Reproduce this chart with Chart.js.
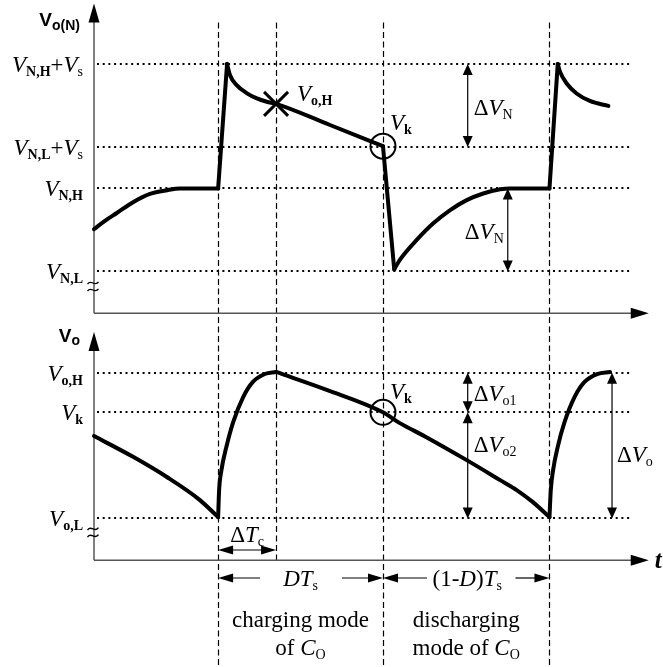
<!DOCTYPE html>
<html>
<head>
<meta charset="utf-8">
<script src="https://cdn.jsdelivr.net/npm/chart.js@4.4.1/dist/chart.umd.min.js"></script>
<style>
  html, body { margin: 0; padding: 0; background: #fff; }
  canvas { display: block; }
</style>
</head>
<body>
<canvas id="c" width="663" height="667"></canvas>
<script>
// Time is measured in switching periods Ts, starting at the vertical axis.
const tSwitchOn = [0.375, 1.376];   // switch turns on
const tChargeEnd = 0.55;            // end of the charging interval ΔTc
const tSwitchOff = 0.873;           // switch turns off (V_k point)

// Levels of the upper trace V_o(N)
const topLevelLabels = ['V_N,L', 'V_N,H', 'V_N,L+V_s', 'V_N,H+V_s'];
const topLevelValues = [1, 3, 4, 6];

// Levels of the lower trace V_o
const botLevelLabels = ['V_o,L', 'V_k', 'V_o,H'];
const botLevelValues = [1, 3.55, 4.5];

// Upper trace, piece by piece: [t, v]
const topRecovery1 = [[0, 2.02], [0.033, 2.22], [0.069, 2.41], [0.118, 2.67], [0.169, 2.87], [0.221, 2.96], [0.26, 3.0], [0.375, 3.0]];
const topStep1 = [[0.375, 3.0], [0.402, 6.0]];
const topDecay1 = [[0.402, 6.0], [0.411, 5.73], [0.431, 5.49], [0.461, 5.30], [0.492, 5.17], [0.522, 5.09], [0.55, 5.04], [0.713, 4.53], [0.873, 4.02]];
const topDrop = [[0.873, 4.02], [0.907, 1.05]];
const topRecovery2 = [[0.907, 1.05], [0.924, 1.28], [0.975, 1.76], [1.025, 2.16], [1.076, 2.48], [1.126, 2.72], [1.176, 2.88], [1.227, 2.98], [1.257, 3.0], [1.376, 3.0]];
const topStep2 = [[1.376, 3.0], [1.401, 6.0]];
const topDecay2 = [[1.401, 6.0], [1.408, 5.81], [1.428, 5.53], [1.458, 5.29], [1.498, 5.11], [1.554, 4.99]];

// Lower trace, piece by piece: [t, v]
const botDischarge1 = [[0, 2.98], [0.118, 2.48], [0.219, 2.0], [0.32, 1.44], [0.375, 1.03]];
const botCharge1 = [[0.375, 1.03], [0.378, 1.68], [0.385, 2.16], [0.4, 2.72], [0.42, 3.30], [0.451, 3.92], [0.48, 4.28], [0.516, 4.47], [0.55, 4.52]];
const botDischarge2 = [[0.55, 4.52], [0.703, 4.09], [0.873, 3.55], [0.924, 3.29], [1.0, 2.97], [1.126, 2.40], [1.227, 1.92], [1.277, 1.68], [1.326, 1.39], [1.376, 1.03]];
const botCharge2 = [[1.376, 1.03], [1.38, 1.68], [1.387, 2.16], [1.401, 2.72], [1.421, 3.30], [1.452, 3.92], [1.482, 4.28], [1.52, 4.47], [1.559, 4.52]];

const topWave = [topRecovery1, topStep1, topDecay1, topDrop, topRecovery2, topStep2, topDecay2];
const botWave = [botDischarge1, botCharge1, botDischarge2, botCharge2];

const SERIF = '"Liberation Serif", "Times New Roman", serif';
const SANS = '"Liberation Sans", Arial, sans-serif';
const F = {
  it: 'italic 23px ' + SERIF,
  rm: '23px ' + SERIF,
  sub: '14px ' + SERIF,
  subB: 'bold 14px ' + SERIF,
  axis: 'bold 19px ' + SANS,
  axisSub: 'bold 14px ' + SANS,
  t: 'bold italic 25px ' + SERIF
};

// draws a run of text pieces [text, font, dy] starting/ending/centred at x
function rich(ctx, parts, x, y, align) {
  let w = 0;
  parts.forEach(p => { ctx.font = p[1]; w += ctx.measureText(p[0]).width; });
  let cx = align === 'right' ? x - w : align === 'center' ? x - w / 2 : x;
  parts.forEach(p => {
    ctx.font = p[1];
    ctx.fillText(p[0], cx, y + (p[2] || 0));
    cx += ctx.measureText(p[0]).width;
  });
}

// 'V_N,H+V_s' -> italic V with subscripts, joined by '+'
function levelParts(label) {
  const parts = [];
  label.split('+').forEach((term, i) => {
    if (i) parts.push(['+', F.rm, 0]);
    const [main, sub] = term.split('_');
    parts.push([main, F.it, 0]);
    if (sub) parts.push([sub, sub === 's' ? F.sub : F.subB, 4]);
  });
  return parts;
}

function seg(ctx, x1, y1, x2, y2) {
  ctx.beginPath(); ctx.moveTo(x1, y1); ctx.lineTo(x2, y2); ctx.stroke();
}

// filled arrow head, tip at (x, y) pointing along (dx, dy)
function head(ctx, x, y, dx, dy, len, half) {
  const bx = x - dx * len, by = y - dy * len;
  ctx.beginPath();
  ctx.moveTo(x, y);
  ctx.lineTo(bx - dy * half, by + dx * half);
  ctx.lineTo(bx + dy * half, by - dx * half);
  ctx.closePath();
  ctx.fill();
}

// vertical dimension arrow between two pixel rows
function dimV(ctx, x, yA, yB) {
  ctx.lineWidth = 1.2;
  seg(ctx, x, yA + 4, x, yB - 4);
  head(ctx, x, yA, 0, -1, 11, 5);
  head(ctx, x, yB, 0, 1, 11, 5);
}

function tilde(ctx, cx, cy) {
  [-3.5, 3.5].forEach(off => {
    const y = cy + off;
    ctx.beginPath();
    ctx.moveTo(cx - 5.5, y + 1.2);
    ctx.bezierCurveTo(cx - 2, y - 4.5, cx + 2, y + 4.5, cx + 5.5, y - 1.2);
    ctx.stroke();
  });
}

const sketch = {
  id: 'sketch',
  beforeDatasetsDraw(chart) {
    const ctx = chart.ctx;
    const { x, yTop, yBot } = chart.scales;
    const X = t => x.getPixelForValue(t);
    const x0 = X(0);
    ctx.save();

    // dotted level lines
    ctx.strokeStyle = '#000';
    ctx.lineWidth = 2;
    ctx.setLineDash([2, 3.7]);
    const xDotEnd = X(1.625);
    topLevelValues.forEach(v => { const py = Math.round(yTop.getPixelForValue(v)); seg(ctx, x0 + 3, py, xDotEnd, py); });
    botLevelValues.forEach(v => { const py = Math.round(yBot.getPixelForValue(v)); seg(ctx, x0 + 3, py, xDotEnd, py); });

    // dashed time markers
    ctx.lineWidth = 1.2;
    ctx.setLineDash([6, 3.5]);
    const yDashTop = yTop.getPixelForValue(7.0);
    [tSwitchOn[0], tSwitchOff, tSwitchOn[1]].forEach(t => {
      const px = Math.round(X(t)) + 0.5;
      seg(ctx, px, yDashTop, px, chart.height);
    });
    const pc = Math.round(X(tChargeEnd)) + 0.5;
    seg(ctx, pc, yDashTop, pc, yBot.getPixelForValue(0));

    // axes
    ctx.setLineDash([]);
    ctx.strokeStyle = '#555';
    ctx.fillStyle = '#000';
    ctx.lineWidth = 1.5;
    const xTip = X(1.676);
    [[yTop, 7.46], [yBot, 5.48]].forEach(([ys, top]) => {
      const yb = Math.round(ys.getPixelForValue(0)) + 0.25;
      const yt = ys.getPixelForValue(top);
      seg(ctx, x0, yb, x0, yt + 10);
      seg(ctx, x0, yb, xTip - 10, yb);
      head(ctx, x0, yt, 0, -1, 19, 5.5);
      head(ctx, xTip, yb, 1, 0, 18, 5.5);
    });
    ctx.restore();
  },
  afterDatasetsDraw(chart) {
    const ctx = chart.ctx;
    const { x, yTop, yBot } = chart.scales;
    const X = t => x.getPixelForValue(t);
    const x0 = X(0);
    ctx.save();
    ctx.fillStyle = '#000';
    ctx.strokeStyle = '#000';
    ctx.textBaseline = 'alphabetic';

    // axis names
    rich(ctx, [['V', F.axis, 0], ['o(N)', F.axisSub, 4]], x0 - 14, yTop.getPixelForValue(7.46) + 23, 'right');
    rich(ctx, [['V', F.axis, 0], ['o', F.axisSub, 3]], x0 - 14, yBot.getPixelForValue(5.48) + 10, 'right');
    ctx.font = F.t;
    ctx.fillText('t', X(1.676) + 6, yBot.getPixelForValue(0) + 8);

    // level names
    topLevelLabels.forEach((lab, i) => rich(ctx, levelParts(lab), x0 - 11, yTop.getPixelForValue(topLevelValues[i]) + 8, 'right'));
    botLevelLabels.forEach((lab, i) => rich(ctx, levelParts(lab), x0 - 11, yBot.getPixelForValue(botLevelValues[i]) + 8, 'right'));

    // axis breaks
    ctx.lineWidth = 1.3;
    tilde(ctx, x0 - 1, yTop.getPixelForValue(topLevelValues[0]) + 15);
    tilde(ctx, x0 - 1, yBot.getPixelForValue(botLevelValues[0]) + 14);

    // V_o,H cross on the upper trace
    const cxH = X(tChargeEnd), cyH = yTop.getPixelForValue(topDecay1[6][1]);
    ctx.lineWidth = 3;
    seg(ctx, cxH - 12, cyH - 12, cxH + 12, cyH + 12);
    seg(ctx, cxH - 12, cyH + 12, cxH + 12, cyH - 12);
    rich(ctx, [['V', F.it, 0], ['o,H', F.subB, 4]], cxH + 21, cyH - 3, 'left');

    // V_k circles
    ctx.lineWidth = 2;
    const xk = X(tSwitchOff);
    const ykTop = yTop.getPixelForValue(topDecay1[8][1]);
    const ykBot = yBot.getPixelForValue(botLevelValues[1]);
    [ykTop, ykBot].forEach(yc => { ctx.beginPath(); ctx.arc(xk, yc, 12.5, 0, Math.PI * 2); ctx.stroke(); });
    rich(ctx, [['V', F.it, 0], ['k', F.subB, 4]], xk + 7, ykTop - 16, 'left');
    rich(ctx, [['V', F.it, 0], ['k', F.subB, 4]], xk + 7, ykBot - 13, 'left');

    // ΔV_N on the upper trace
    const xa = X(1.129), xb = X(1.25);
    const pT = v => yTop.getPixelForValue(v);
    dimV(ctx, xa, pT(topLevelValues[3]), pT(topLevelValues[2]));
    rich(ctx, [['Δ', F.rm, 0], ['V', F.it, 0], ['N', F.sub, 4]], xa + 6, (pT(6) + pT(4)) / 2 + 10, 'left');
    dimV(ctx, xb, pT(topLevelValues[1]), pT(topLevelValues[0]));
    rich(ctx, [['Δ', F.rm, 0], ['V', F.it, 0], ['N', F.sub, 4]], xb - 4, (pT(3) + pT(1)) / 2 + 9, 'right');

    // ΔV_o1, ΔV_o2, ΔV_o on the lower trace
    const pB = v => yBot.getPixelForValue(v);
    const yL = pB(botLevelValues[0]), yK = pB(botLevelValues[1]), yH = pB(botLevelValues[2]);
    dimV(ctx, xa, yH, yK);
    dimV(ctx, xa, yK, yL);
    rich(ctx, [['Δ', F.rm, 0], ['V', F.it, 0], ['o1', F.sub, 4]], xa + 6, (yH + yK) / 2 + 8, 'left');
    rich(ctx, [['Δ', F.rm, 0], ['V', F.it, 0], ['o2', F.sub, 4]], xa + 6, yK + 40, 'left');
    const xo = X(1.565);
    dimV(ctx, xo, yH, yL);
    rich(ctx, [['Δ', F.rm, 0], ['V', F.it, 0], ['o', F.sub, 4]], xo + 5, (yH + yL) / 2 + 16, 'left');

    // ΔTc
    const xOn = X(tSwitchOn[0]), xC = X(tChargeEnd);
    const yTc = pB(0) - 10;
    ctx.lineWidth = 1.2;
    seg(ctx, xOn + 4, yTc, xC - 4, yTc);
    head(ctx, xOn, yTc, -1, 0, 15, 4.5);
    head(ctx, xC, yTc, 1, 0, 15, 4.5);
    rich(ctx, [['Δ', F.rm, 0], ['T', F.it, 0], ['c', F.sub, 4]], (xOn + xC) / 2, yTc - 8, 'center');

    // DTs and (1-D)Ts spans
    const xOff = X(tSwitchOff), xOn2 = X(tSwitchOn[1]);
    const ySpan = pB(0) + 18;
    seg(ctx, xOn + 4, ySpan, xOn + 42, ySpan);
    head(ctx, xOn, ySpan, -1, 0, 15, 4.5);
    seg(ctx, xOff - 41, ySpan, xOff - 4, ySpan);
    head(ctx, xOff, ySpan, 1, 0, 15, 4.5);
    rich(ctx, [['DT', F.it, 0], ['s', F.sub, 4]], (xOn + xOff) / 2, ySpan + 8, 'center');
    seg(ctx, xOff + 4, ySpan, xOff + 44, ySpan);
    head(ctx, xOff, ySpan, -1, 0, 15, 4.5);
    seg(ctx, xOn2 - 34, ySpan, xOn2 - 4, ySpan);
    head(ctx, xOn2, ySpan, 1, 0, 15, 4.5);
    rich(ctx, [['(1-', F.rm, 0], ['D', F.it, 0], [')', F.rm, 0], ['T', F.it, 0], ['s', F.sub, 4]], (xOff + xOn2) / 2 + 1, ySpan + 8, 'center');

    // mode captions
    const y1 = pB(0) + 67, y2 = pB(0) + 95;
    rich(ctx, [['charging mode', F.rm, 0]], (xOn + xOff) / 2, y1, 'center');
    rich(ctx, [['of ', F.rm, 0], ['C', F.it, 0], ['O', F.sub, 4]], (xOn + xOff) / 2, y2, 'center');
    rich(ctx, [['discharging', F.rm, 0]], (xOff + xOn2) / 2, y1, 'center');
    rich(ctx, [['mode of ', F.rm, 0], ['C', F.it, 0], ['O', F.sub, 4]], (xOff + xOn2) / 2, y2, 'center');

    ctx.restore();
  }
};

function piece(points, axis) {
  return {
    data: points.map(([t, v]) => ({ x: t, y: v })),
    xAxisID: 'x',
    yAxisID: axis,
    borderColor: '#000',
    borderWidth: 4,
    pointRadius: 0,
    fill: false,
    cubicInterpolationMode: 'monotone',
    borderCapStyle: 'round',
    borderJoinStyle: 'round'
  };
}

const chart = new Chart(document.getElementById('c'), {
  type: 'line',
  data: {
    datasets: [
      ...topWave.map(p => piece(p, 'yTop')),
      ...botWave.map(p => piece(p, 'yBot'))
    ]
  },
  options: {
    responsive: false,
    animation: false,
    devicePixelRatio: 1,
    events: [],
    layout: { padding: 0 },
    plugins: { legend: { display: false }, tooltip: { enabled: false } },
    scales: {
      x: { type: 'linear', min: -0.284, max: 1.719, bounds: 'data', display: false },
      yTop: { type: 'linear', position: 'left', min: -8.53, max: 7.542, bounds: 'data', display: false },
      yBot: { type: 'linear', position: 'right', min: -2.572, max: 13.46, bounds: 'data', display: false }
    }
  },
  plugins: [sketch]
});
</script>
</body>
</html>
